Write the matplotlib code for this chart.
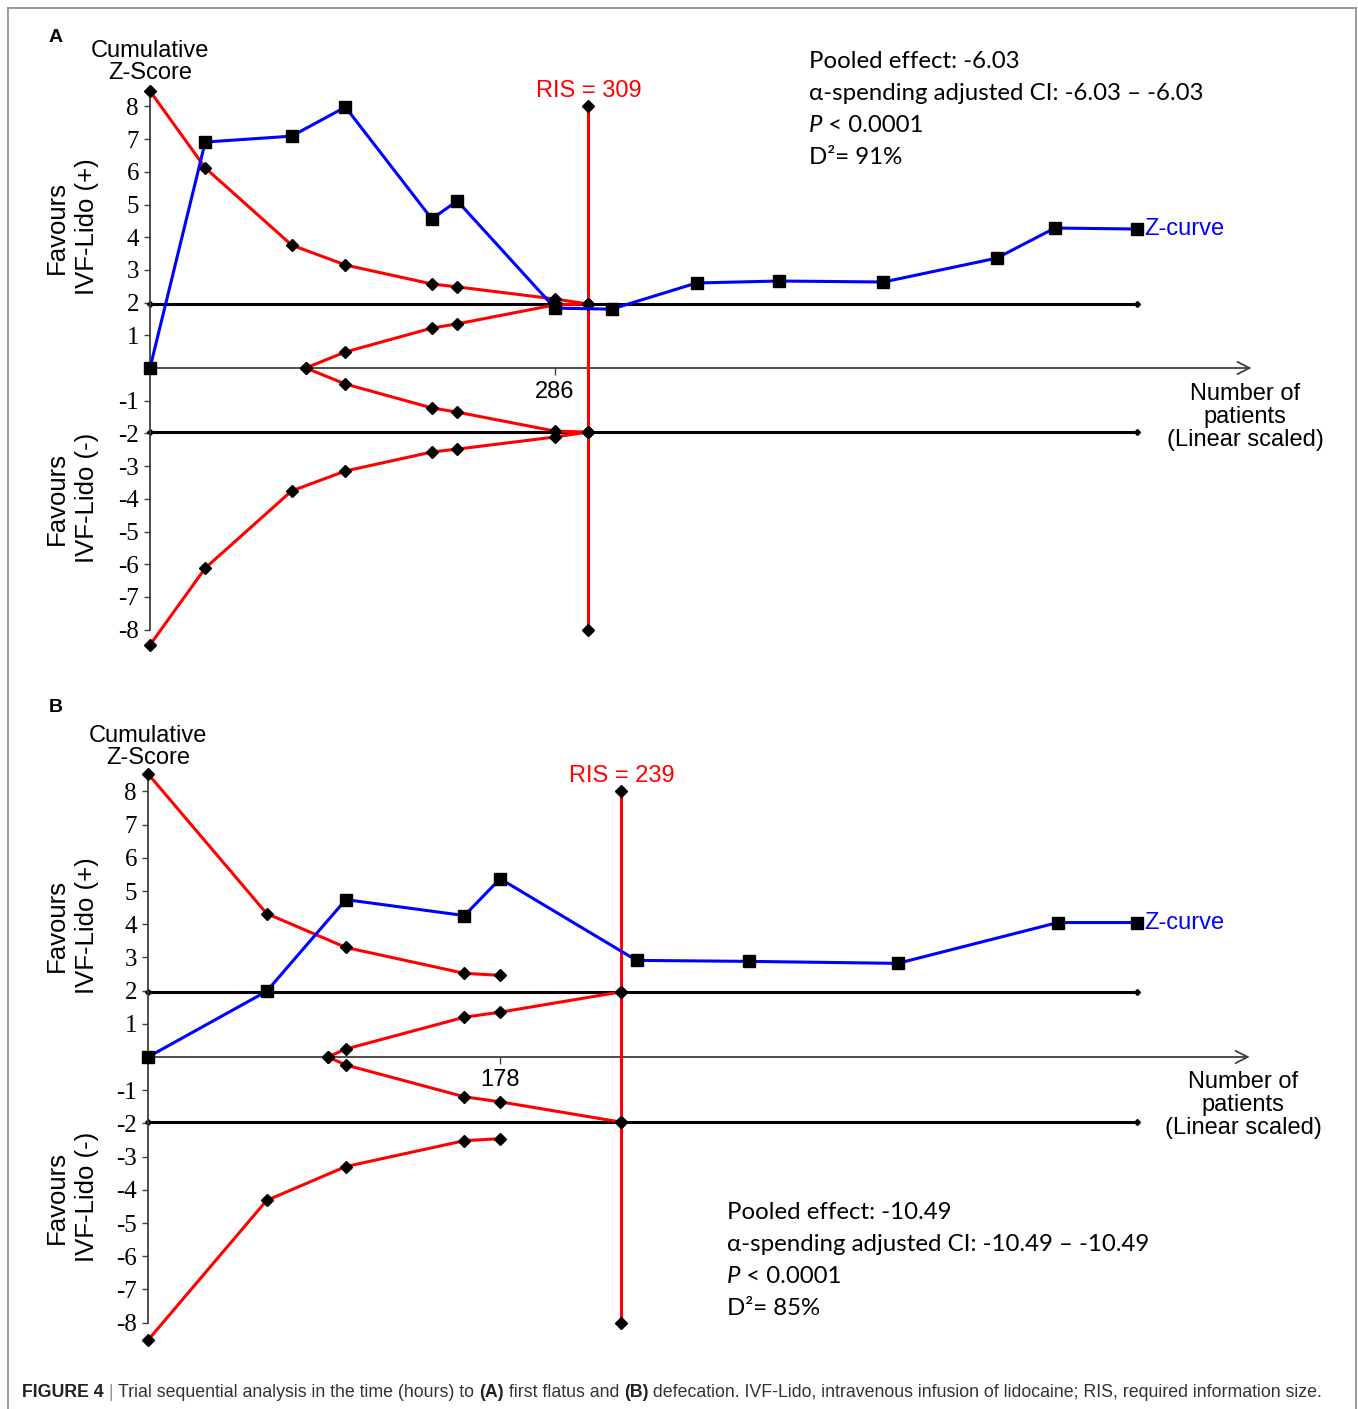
import matplotlib
matplotlib.use('Agg')
import matplotlib.pyplot as plt
from matplotlib import font_manager
import numpy as np

W, H = 1358, 1409
Z_CRIT = 1.96

# panel A: time to first flatus
patients_a = [0, 39, 100, 138, 199, 217, 286, 326, 386, 444, 518, 598, 639, 697]
zcurve_a = [0, 6.91, 7.09, 7.98, 4.56, 5.11, 1.83, 1.80, 2.60, 2.66, 2.63, 3.36, 4.28, 4.25]
bound_n_a = [0, 39, 100, 138, 199, 217, 286, 309]
bound_z_a = [8.47, 6.12, 3.76, 3.15, 2.57, 2.48, 2.11, 1.96]
futil_n_a = [110, 138, 199, 217, 286, 309]
futil_z_a = [0, 0.49, 1.22, 1.35, 1.93, 1.96]
ris_a = 309
xtick_a = 286
stats_a = ['Pooled effect: -6.03', 'α-spending adjusted CI: -6.03 – -6.03', ' < 0.0001', 'D²= 91%']

# panel B: time to defecation
patients_b = [0, 60, 100, 160, 178, 247, 304, 379, 460, 500]
zcurve_b = [0, 1.98, 4.74, 4.26, 5.37, 2.91, 2.88, 2.82, 4.05, 4.05]
bound_n_b = [0, 60, 100, 160, 178]
bound_z_b = [8.53, 4.32, 3.30, 2.52, 2.46]
futil_n_b = [91, 100, 160, 178, 239]
futil_z_b = [0, 0.24, 1.20, 1.35, 1.96]
ris_b = 239
xtick_b = 178
stats_b = ['Pooled effect: -10.49', 'α-spending adjusted CI: -10.49 – -10.49', ' < 0.0001', 'D²= 85%']

yticks = [-8, -7, -6, -5, -4, -3, -2, -1, 1, 2, 3, 4, 5, 6, 7, 8]

RED = '#ff0000'
BLUE = '#0000ff'
AXC = '#404040'
SANS = ['Liberation Sans', 'DejaVu Sans']
SERIF = ['Liberation Serif', 'DejaVu Serif']
STATF = ['Lato', 'Open Sans', 'DejaVu Sans']

plt.rcParams['font.family'] = SANS

fig = plt.figure(figsize=(W / 100, H / 100), dpi=100)
renderer = fig.canvas.get_renderer()


def fx(px):
    return px / W


def fy(py):
    return 1 - py / H


def text_width(s, **kw):
    t = fig.text(0, 0, '|' + s + '|', **kw)
    w1 = t.get_window_extent(renderer).width
    t.set_text('||')
    w2 = t.get_window_extent(renderer).width
    t.remove()
    return w1 - w2


def put_runs(x, y, runs, **kw):
    for s, extra in runs:
        props = dict(kw)
        props.update(extra)
        fig.text(fx(x), fy(y), s, va='baseline', ha='left', **props)
        x += text_width(s, **props)
    return x


def make_axes(ox, oy, sx, sz, xmax, zlo=-9.0, zhi=9.6):
    left = ox
    right = ox + xmax * sx
    top = oy - zhi * sz
    bottom = oy - zlo * sz
    ax = fig.add_axes([fx(left), fy(bottom), (right - left) / W, (bottom - top) / H])
    ax.set_xlim(0, xmax)
    ax.set_ylim(zlo, zhi)
    ax.patch.set_alpha(0)
    return ax


def draw_panel(ax, n, z, bn, bz, fn, fz, ris, xtick, xarrow):
    bz = np.array(bz)
    fz = np.array(fz)
    for s in ['top', 'right']:
        ax.spines[s].set_visible(False)
    ax.spines['left'].set_bounds(-8, bz[0])
    ax.spines['left'].set_color(AXC)
    ax.spines['left'].set_linewidth(1.3)
    ax.spines['bottom'].set_position(('data', 0))
    ax.spines['bottom'].set_color('none')
    ax.annotate('', xy=(xarrow, 0), xytext=(0, 0),
                arrowprops=dict(arrowstyle='->', color=AXC, lw=1.3,
                                shrinkA=0, shrinkB=0, mutation_scale=22))

    ax.set_yticks(yticks)
    ax.set_yticklabels([str(t) for t in yticks], fontsize=18)
    for lbl in ax.get_yticklabels():
        lbl.set_fontfamily(SERIF)
    ax.tick_params(axis='y', direction='out', length=4, width=1, color=AXC, pad=4)
    ax.set_xticks([xtick])
    ax.set_xticklabels([str(xtick)], fontsize=17)
    ax.tick_params(axis='x', direction='out', length=5, width=1, color=AXC, pad=4)

    mk = dict(marker='D', ms=6.5, mfc='k', mec='k', clip_on=False)
    # +-1.96 conventional boundaries
    for sgn in (1, -1):
        ax.plot([0, n[-1]], [sgn * Z_CRIT] * 2, color='k', lw=2.2,
                marker='D', ms=3, mfc='k', mec='k', zorder=2, clip_on=False)
    # monitoring and futility boundaries
    ax.plot(bn, bz, color=RED, lw=2.2, zorder=3, **mk)
    ax.plot(bn, -bz, color=RED, lw=2.2, zorder=3, **mk)
    ax.plot(fn, fz, color=RED, lw=2.2, zorder=3, **mk)
    ax.plot(fn, -fz, color=RED, lw=2.2, zorder=3, **mk)
    # required information size
    ax.plot([ris, ris], [-8, 8], color=RED, lw=2.2, zorder=3, clip_on=False)
    ax.plot([ris] * 4, [-8, -Z_CRIT, Z_CRIT, 8], ls='none', zorder=4, **mk)
    ax.annotate(f'RIS = {ris}', xy=(ris, 8), xytext=(1, 3), textcoords='offset points',
                ha='center', va='bottom', color=RED, fontsize=17)
    # Z-curve
    ax.plot(n, z, color=BLUE, lw=2.2, marker='s', ms=9, mfc='k', mec='k',
            zorder=5, clip_on=False)
    ax.annotate('Z-curve', xy=(n[-1], z[-1]), xytext=(5, 0), textcoords='offset points',
                ha='left', va='center', color=BLUE, fontsize=17)


def put_stats(x, y0, lines):
    kw = dict(fontsize=17.3, family=STATF, color='black')
    for i, line in enumerate(lines):
        yb = y0 + i * 32 + 8
        if i == 2:
            put_runs(x, yb, [('P', dict(style='italic')), (line, {})], **kw)
        else:
            put_runs(x, yb, [(line, {})], **kw)


def side_labels(y_cum, y_plus, y_minus, x_cum, y_num, x_num, letter, y_letter):
    fig.text(fx(56), fy(y_letter), letter, fontsize=14, weight='bold', ha='center', va='center')
    fig.text(fx(x_cum), fy(y_cum), 'Cumulative\nZ-Score', fontsize=17, ha='center',
             va='center', linespacing=1.05)
    fig.text(fx(72), fy(y_plus), 'Favours\nIVF-Lido (+)', fontsize=18.5, rotation=90,
             ha='center', va='center', linespacing=1.3)
    fig.text(fx(72), fy(y_minus), 'Favours\nIVF-Lido (-)', fontsize=18.5, rotation=90,
             ha='center', va='center', linespacing=1.3)
    fig.text(fx(x_num), fy(y_num), 'Number of\npatients\n(Linear scaled)', fontsize=17,
             ha='center', va='center', linespacing=1.05)


# panel A
ax_a = make_axes(150, 368, 1.416, 32.7, 790)
draw_panel(ax_a, patients_a, zcurve_a, bound_n_a, bound_z_a, futil_n_a, futil_z_a,
           ris_a, xtick_a, 778)
side_labels(62, 227, 498, 150, 417, 1245, 'A', 38)
put_stats(809, 60, stats_a)

# panel B
ax_b = make_axes(148, 1057, 1.978, 33.2, 565)
draw_panel(ax_b, patients_b, zcurve_b, bound_n_b, bound_z_b, futil_n_b, futil_z_b,
           ris_b, xtick_b, 557)
side_labels(747, 926, 1197, 148, 1105, 1243, 'B', 707)
put_stats(727, 1211, stats_b)

# outer frame
frame = dict(color='#8a8a8a', lw=1.2, transform=fig.transFigure)
fig.add_artist(plt.Line2D([fx(8), fx(8)], [fy(8), 0], **frame))
fig.add_artist(plt.Line2D([fx(8), fx(1356)], [fy(8), fy(8)], **frame))
fig.add_artist(plt.Line2D([fx(1356), fx(1356)], [fy(8), 0], **frame))

# caption
names = {f.name for f in font_manager.fontManager.ttflist}
cap_family = 'Liberation Sans Narrow' if 'Liberation Sans Narrow' in names else 'Liberation Sans'
caption = [
    ('FIGURE 4', dict(weight='bold', color='#222222')),
    (' | ', dict(color='#999999')),
    ('Trial sequential analysis in the time (hours) to ', {}),
    ('(A)', dict(weight='bold', color='#222222')),
    (' first flatus and ', {}),
    ('(B)', dict(weight='bold', color='#222222')),
    (' defecation. IVF-Lido, intravenous infusion of lidocaine; RIS, required information size.', {}),
]
base = dict(fontsize=10, family=[cap_family, 'DejaVu Sans'], color='#333333')
total = 0
for s, extra in caption:
    p = dict(base)
    p.update(extra)
    total += text_width(s, **p)
base['fontsize'] = 10 * 1308 / total
put_runs(22, 1397, caption, **base)

fig.savefig('out.png', dpi=100)
